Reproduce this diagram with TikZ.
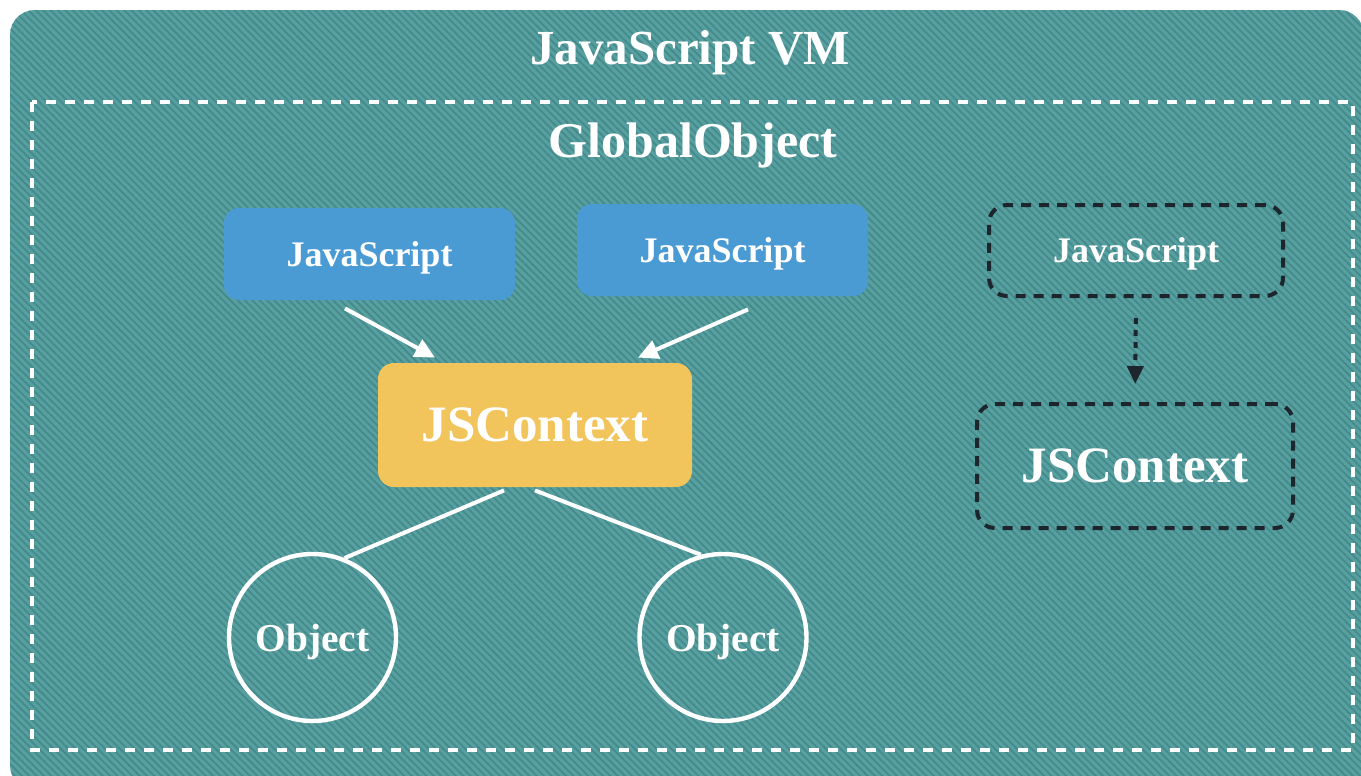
\documentclass[tikz,border=0pt]{standalone}
\usepackage{fontspec}
\setmainfont{Liberation Serif}
\usetikzlibrary{patterns.meta,arrows.meta,calc}
\definecolor{tealbase}{RGB}{88,160,160}
\definecolor{tealline}{RGB}{68,138,140}
\definecolor{jsblue}{RGB}{74,154,212}
\definecolor{ctxyellow}{RGB}{242,196,92}
\definecolor{darkdash}{RGB}{28,38,44}
\tikzset{
  lbl/.style={text=white, inner sep=0pt, text depth=0pt, font=\bfseries},
  bluebox/.style={fill=jsblue, rounded corners=7.5pt, minimum width=145.5pt, minimum height=46pt, inner sep=0pt, text depth=0pt, text=white, font=\fontsize{18}{20}\selectfont\bfseries},
  ctxbox/.style={fill=ctxyellow, rounded corners=8pt, minimum width=157pt, minimum height=62pt, inner sep=0pt, text depth=0pt, text=white, font=\fontsize{25.5}{28}\selectfont\bfseries},
  darkbox/.style={draw=darkdash, line width=2pt, dash pattern=on 5pt off 4pt, rounded corners=9pt, inner sep=0pt, text depth=0pt, text=white},
  objcircle/.style={circle, draw=white, line width=2.2pt, minimum size=83.5pt, inner sep=0pt, text depth=0pt, text=white, font=\fontsize{19.7}{22}\selectfont\bfseries},
  whitearrow/.style={draw=white, line width=2pt, -{Triangle[length=10pt,width=9.5pt]}},
  whiteline/.style={draw=white, line width=2pt},
  darkarrow/.style={draw=darkdash, line width=2pt, dash pattern=on 3pt off 3pt, -{Triangle[length=9pt,width=8pt]}}
}
\begin{document}
\begin{tikzpicture}[x=0.5pt,y=-0.5pt]
\useasboundingbox (0,0) rectangle (1361,776);
\clip (0,0) rectangle (1361,776);
\fill[white] (0,0) rectangle (1361,776);
% outer VM box
\path[fill=tealbase, rounded corners=12.5pt] (10,10) rectangle (1364,790);
\path[pattern={Lines[angle=-45,distance=2.6pt,line width=0.9pt]}, pattern color=tealline, rounded corners=12.5pt] (10,10) rectangle (1364,790);
\node[lbl, font=\fontsize{24.5}{28}\selectfont\bfseries] (vm) at (690,47) {JavaScript VM};
% global object dashed box
\draw[white, line width=2pt, dash pattern=on 5pt off 4.5pt] (32,102) rectangle (1353,750);
\node[lbl, font=\fontsize{25}{28}\selectfont\bfseries] (go) at (693,140) {GlobalObject};
% blue script boxes
\node[bluebox] (js1) at (369.5,254) {JavaScript};
\node[bluebox] (js2) at (722.5,250) {JavaScript};
% context
\node[ctxbox] (jsc) at (535,425) {JSContext};
% objects
\node[objcircle] (obj1) at (312.5,637.5) {Object};
\node[objcircle] (obj2) at (723,637.5) {Object};
% arrows
\coordinate (a1s) at ($(js1.south)+(-24.5,8)$);
\coordinate (a1e) at ($(jsc.north)+(-100,-5)$);
\coordinate (a2s) at ($(js2.south)+(25.5,13)$);
\coordinate (a2e) at ($(jsc.north)+(103,-5)$);
\draw[whitearrow] (a1s) -- (a1e);
\draw[whitearrow] (a2s) -- (a2e);
\coordinate (l1s) at ($(jsc.south)+(-31,3)$);
\coordinate (l2s) at ($(jsc.south)+(0,3)$);
\draw[whiteline] (l1s) -- (obj1.68);
\draw[whiteline] (l2s) -- (obj2.105);
% dashed right part
\node[darkbox, minimum width=147pt, minimum height=45.5pt, font=\fontsize{18}{20}\selectfont\bfseries] (djs) at (1136,250.5) {JavaScript};
\node[darkbox, minimum width=158pt, minimum height=62pt, font=\fontsize{25.5}{28}\selectfont\bfseries] (dctx) at (1135,466) {JSContext};
\draw[darkarrow, shorten <=10pt, shorten >=9pt] (djs.south) -- (dctx.north);
\end{tikzpicture}
\end{document}
